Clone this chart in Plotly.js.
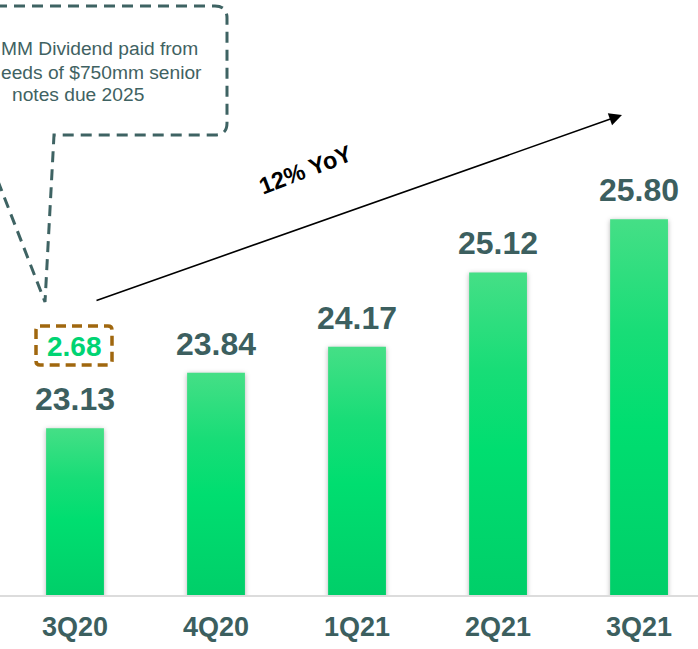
<!DOCTYPE html>
<html>
<head>
<meta charset="utf-8">
<script src="https://cdn.plot.ly/plotly-3.0.1.min.js"></script>
<style>html,body{margin:0;padding:0;background:#fff;}#chart{width:698px;height:649px;}</style>
</head>
<body>
<div id="chart"></div>
<script>
// ---- data ----
const categories = ['3Q20', '4Q20', '1Q21', '2Q21', '3Q21'];
const values = [23.13, 23.84, 24.17, 25.12, 25.80];
const dividendValue = 2.68;
const growthLabel = '12% YoY';
const calloutLines = ['MM Dividend paid from', 'eeds of $750mm senior', 'notes due 2025'];

// ---- layout helpers (pixel -> paper) ----
const W = 698, H = 649, MB = 54, PH = H - MB;
const px = x => x / W;
const py = y => 1 - y / PH;
function pathFrom(cmds) {
  return cmds.map(c => {
    const op = c[0];
    const nums = c.slice(1);
    const out = [];
    for (let i = 0; i < nums.length; i += 2) out.push(px(nums[i]).toFixed(5) + ',' + py(nums[i + 1]).toFixed(5));
    return op + ' ' + out.join(' ');
  }).join(' ');
}
function roundRect(x0, y0, x1, y1, r) {
  return pathFrom([
    ['M', x0 + r, y0], ['L', x1 - r, y0], ['Q', x1, y0, x1, y0 + r], ['L', x1, y1 - r],
    ['Q', x1, y1, x1 - r, y1], ['L', x0 + r, y1], ['Q', x0, y1, x0, y1 - r], ['L', x0, y0 + r],
    ['Q', x0, y0, x0 + r, y0]
  ]) + ' Z';
}

const FONT = 'Liberation Sans, Arial, sans-serif';
const DARK = '#3c5f5f';

const trace = {
  type: 'bar',
  x: categories,
  y: values,
  width: 0.41,
  marker: { color: '#00dd70', opacity: 1, line: { width: 0 } },
  hoverinfo: 'none'
};

const annotations = values.map((v, i) => ({
  x: categories[i], y: v, xref: 'x', yref: 'y',
  text: '<b>' + v.toFixed(2) + '</b>', showarrow: false,
  yanchor: 'middle', yshift: 29,
  font: { family: FONT, size: 32, color: DARK }
}));

annotations.push({
  xref: 'paper', yref: 'paper', x: px(74), y: py(346),
  text: '<b>' + dividendValue.toFixed(2) + '</b>', showarrow: false,
  xanchor: 'center', yanchor: 'middle',
  font: { family: FONT, size: 28, color: '#00d473' }
});

annotations.push({
  xref: 'paper', yref: 'paper', x: px(622), y: py(115),
  text: '', showarrow: true, ax: 95 - 622, ay: 301 - 115,
  arrowcolor: '#000', arrowwidth: 1.6, arrowhead: 2, arrowsize: 1.6, standoff: 0
});

annotations.push({
  xref: 'paper', yref: 'paper', x: px(305), y: py(170),
  text: '<b>' + growthLabel + '</b>', showarrow: false, textangle: -21,
  xanchor: 'center', yanchor: 'middle',
  font: { family: FONT, size: 23.5, color: '#000' }
});

const CF = { family: FONT, size: 19.2, color: '#3f6262' };
annotations.push(
  { xref: 'paper', yref: 'paper', x: 0, y: py(48), text: calloutLines[0], showarrow: false,
    xanchor: 'left', yanchor: 'middle', xshift: -1, font: CF },
  { xref: 'paper', yref: 'paper', x: 0, y: py(72), text: calloutLines[1], showarrow: false,
    xanchor: 'left', yanchor: 'middle', xshift: -1, font: CF },
  { xref: 'paper', yref: 'paper', x: px(78), y: py(95), text: calloutLines[2], showarrow: false,
    xanchor: 'center', yanchor: 'middle', font: CF }
);

const shapes = [
  { type: 'path', xref: 'paper', yref: 'paper',
    path: pathFrom([['M', -40, 6], ['L', 215, 6], ['Q', 227, 6, 227, 18], ['L', 227, 123],
                    ['Q', 227, 135, 215, 135], ['L', 54, 135], ['L', 45, 302], ['L', -20, 135]]),
    line: { color: '#3e6363', width: 3, dash: '11px,7px' } },
  { type: 'path', xref: 'paper', yref: 'paper',
    path: roundRect(36, 326, 112, 365, 4),
    line: { color: '#a0670e', width: 3.5, dash: '10px,6px' } }
];

const layout = {
  width: W, height: H,
  margin: { l: 0, r: 0, t: 0, b: MB, pad: 0 },
  paper_bgcolor: '#fff', plot_bgcolor: '#fff',
  showlegend: false,
  xaxis: {
    type: 'category', range: [-0.532, 4.418], fixedrange: true,
    showgrid: false, zeroline: false, ticks: '',
    showline: true, linecolor: '#dcdcdc', linewidth: 2,
    tickfont: { family: FONT, size: 27, color: DARK },
    ticklabelstandoff: 7,
    tickprefix: '<b>', ticksuffix: '</b>'
  },
  yaxis: {
    range: [21, 28.6], visible: false, showgrid: false, zeroline: false, fixedrange: true
  },
  annotations: annotations,
  shapes: shapes
};

Plotly.newPlot('chart', [trace], layout, { displayModeBar: false, staticPlot: true }).then(gd => {
  const svg = gd.querySelector('svg.main-svg');
  const NS = 'http://www.w3.org/2000/svg';
  let defs = svg.querySelector('defs');
  if (!defs) { defs = document.createElementNS(NS, 'defs'); svg.insertBefore(defs, svg.firstChild); }
  const filt = document.createElementNS(NS, 'filter');
  filt.setAttribute('id', 'barBlur');
  filt.setAttribute('x', '-40%'); filt.setAttribute('y', '-10%');
  filt.setAttribute('width', '180%'); filt.setAttribute('height', '120%');
  const gb = document.createElementNS(NS, 'feGaussianBlur');
  gb.setAttribute('stdDeviation', '2.5');
  filt.appendChild(gb);
  defs.appendChild(filt);
  gd.querySelectorAll('.barlayer .point path').forEach((p, i) => {
    const bb = p.getBBox();
    const top = bb.y;
    const grad = document.createElementNS(NS, 'linearGradient');
    grad.setAttribute('id', 'barGrad' + i);
    grad.setAttribute('gradientUnits', 'userSpaceOnUse');
    grad.setAttribute('x1', '0'); grad.setAttribute('y1', String(top));
    grad.setAttribute('x2', '0'); grad.setAttribute('y2', String(PH));
    [['0', '#45df86'], ['0.3', '#18dd77'], ['0.55', '#00de70'], ['1', '#00cf69']].forEach(([o, c]) => {
      const s = document.createElementNS(NS, 'stop');
      s.setAttribute('offset', o); s.setAttribute('stop-color', c);
      grad.appendChild(s);
    });
    defs.appendChild(grad);
    const sh = p.cloneNode(false);
    sh.removeAttribute('style');
    sh.setAttribute('fill', '#000');
    sh.setAttribute('fill-opacity', '0.3');
    sh.setAttribute('transform', 'translate(0,1)');
    sh.setAttribute('filter', 'url(#barBlur)');
    p.parentNode.insertBefore(sh, p);
    p.style.fill = 'url(#barGrad' + i + ')';
  });
});
</script>
</body>
</html>
